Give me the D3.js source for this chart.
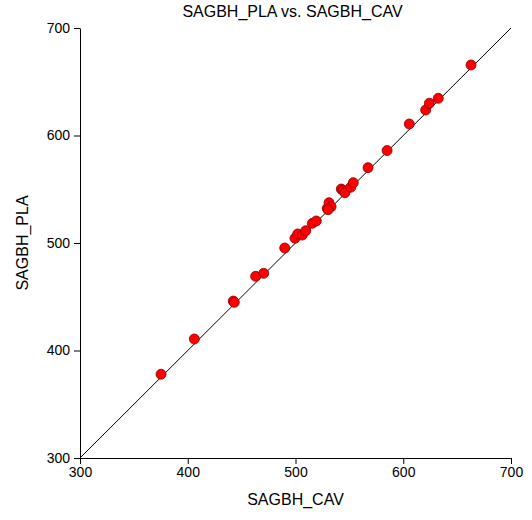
<!DOCTYPE html>
<html>
<head>
<meta charset="utf-8">
<script src="https://cdn.jsdelivr.net/npm/d3@7"></script>
<style>
  html, body { margin: 0; padding: 0; background: #fff; }
  svg { display: block; }
  text { font-family: "Liberation Sans", Arial, sans-serif; fill: #000; }
</style>
</head>
<body>
<div id="chart"></div>
<script>
const title = "SAGBH_PLA vs. SAGBH_CAV";
const xLabel = "SAGBH_CAV";
const yLabel = "SAGBH_PLA";
const xTicks = [300, 400, 500, 600, 700];
const yTicks = [300, 400, 500, 600, 700];
const identityLine = [300, 700];

const cav = [375.2, 406.1, 442.3, 443.2, 463.0, 470.5, 490.0,
             499.5, 502.0, 506.3, 509.5, 515.6, 519.3,
             529.5, 531.1, 533.0, 530.2,
             542.5, 544.0, 545.9, 551.2, 553.6,
             567.3, 585.0, 605.6, 620.8, 624.2, 632.5, 662.9];
const pla = [377.9, 410.7, 446.0, 444.8, 469.0, 471.8, 495.3,
             504.4, 508.4, 507.4, 511.4, 518.3, 520.5,
             532.3, 537.5, 533.8, 531.0,
             550.2, 549.0, 546.8, 551.8, 556.1,
             570.1, 586.0, 610.7, 623.7, 630.0, 634.6, 665.6];

const W = 532, H = 520;
const m = { left: 80, right: 21, top: 28, bottom: 62 };

const svg = d3.select("#chart").append("svg")
  .attr("width", W).attr("height", H);

const x = d3.scaleLinear().domain([300, 700]).range([m.left, W - m.right]);
const y = d3.scaleLinear().domain([300, 700]).range([H - m.bottom, m.top]);

// axes
const xAxis = svg.append("g")
  .attr("transform", `translate(0,${H - m.bottom})`)
  .call(d3.axisBottom(x).tickValues(xTicks).tickSize(6).tickPadding(3).tickSizeOuter(0));
const yAxis = svg.append("g")
  .attr("transform", `translate(${m.left},0)`)
  .call(d3.axisLeft(y).tickValues(yTicks).tickSize(6).tickPadding(4).tickSizeOuter(0));
[xAxis, yAxis].forEach(g => {
  g.selectAll("path").attr("stroke", "#000").attr("stroke-width", 1);
  g.selectAll("line").attr("stroke", "#000").attr("stroke-width", 1);
  g.selectAll("text").style("font-size", "14px")
    .style("font-family", "'Liberation Sans', Arial, sans-serif").attr("fill", "#000");
});

// identity line
svg.append("line")
  .attr("x1", x(identityLine[0])).attr("y1", y(identityLine[0]))
  .attr("x2", x(identityLine[1])).attr("y2", y(identityLine[1]))
  .attr("stroke", "#000").attr("stroke-width", 1);

// points
svg.append("g").selectAll("circle")
  .data(cav.map((c, i) => [c, pla[i]]))
  .join("circle")
  .attr("cx", d => x(d[0]))
  .attr("cy", d => y(d[1]))
  .attr("r", 5)
  .attr("fill", "#ff0000")
  .attr("stroke", "#8a0000")
  .attr("stroke-width", 0.8);

// title & labels
svg.append("text")
  .attr("x", (m.left + W - m.right) / 2 - 3).attr("y", 17)
  .attr("text-anchor", "middle").style("font-size", "16px").text(title);
svg.append("text")
  .attr("x", (m.left + W - m.right) / 2).attr("y", 505)
  .attr("text-anchor", "middle").style("font-size", "16px").text(xLabel);
svg.append("text")
  .attr("transform", `translate(28,${(m.top + H - m.bottom) / 2}) rotate(-90)`)
  .attr("text-anchor", "middle").style("font-size", "16px").text(yLabel);
</script>
</body>
</html>
